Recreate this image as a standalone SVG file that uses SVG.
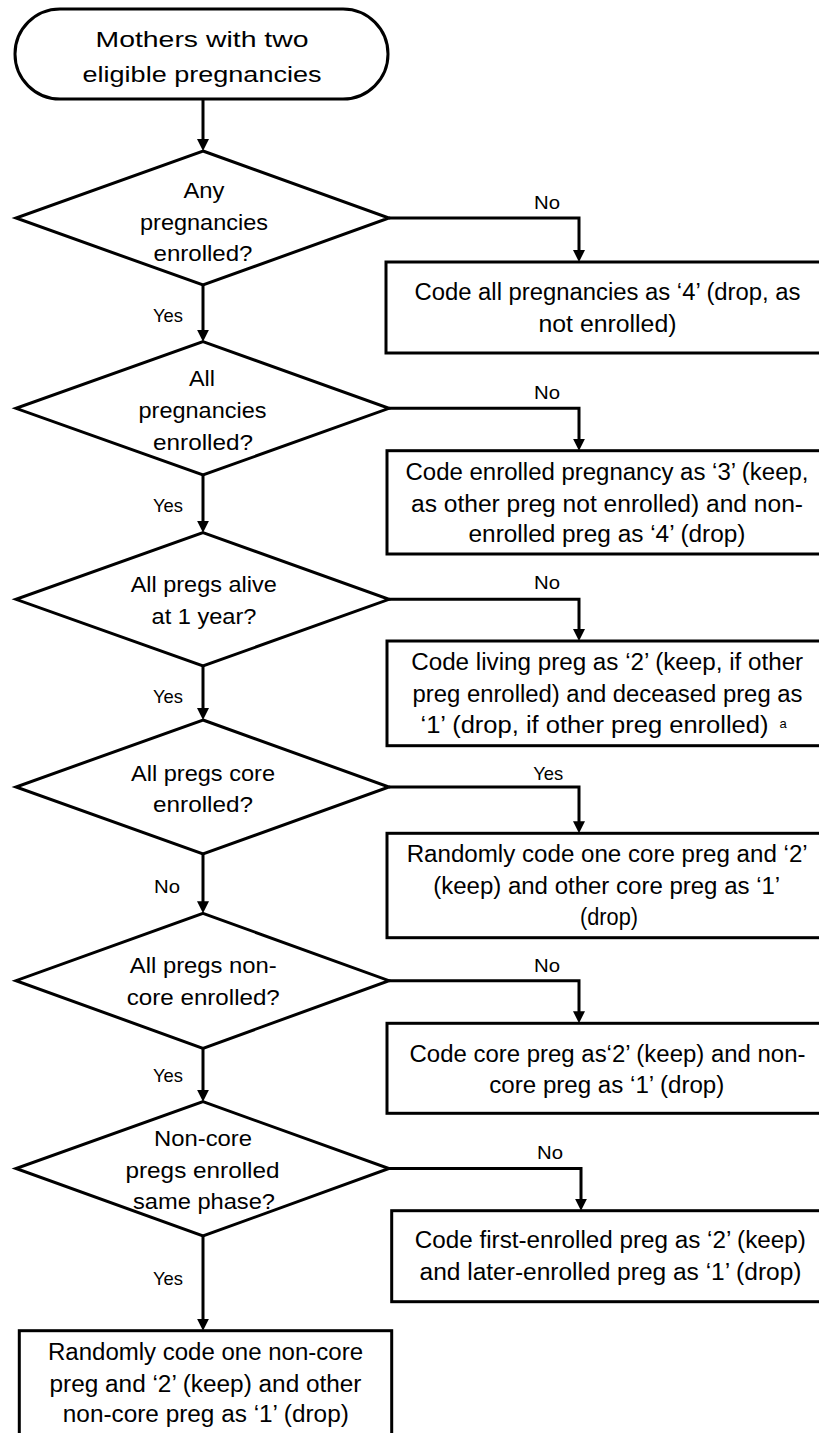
<svg xmlns="http://www.w3.org/2000/svg" width="819" height="1433" viewBox="0 0 819 1433">
<style>
.shape{fill:#fff;stroke:#000;stroke-width:3;stroke-linejoin:miter}
.conn{fill:none;stroke:#000;stroke-width:3}
text{font-family:"Liberation Sans",Arial,sans-serif;fill:#000;text-anchor:middle}
.t{font-size:22px}
.b{font-size:23.5px}
.l{font-size:19px}
.sup{font-size:13px;text-anchor:start}
</style>
<defs>
<marker id="ah" viewBox="0 0 12 12" markerWidth="12" markerHeight="12" markerUnits="userSpaceOnUse" refX="1" refY="6" orient="auto">
<path d="M0,0 L12,6 L0,12 z" fill="#000"/>
</marker>
</defs>
<rect width="819" height="1433" fill="#fff"/>

<g id="connectors">
<path class="conn" d="M203,99 V140" marker-end="url(#ah)"/>
<path class="conn" d="M389,218 H579 V251" marker-end="url(#ah)"/>
<path class="conn" d="M203,285 V330.7" marker-end="url(#ah)"/>
<path class="conn" d="M389,408.3 H579 V439.7" marker-end="url(#ah)"/>
<path class="conn" d="M203,475 V521.7" marker-end="url(#ah)"/>
<path class="conn" d="M389,599.3 H579 V630" marker-end="url(#ah)"/>
<path class="conn" d="M203,666 V709" marker-end="url(#ah)"/>
<path class="conn" d="M389,787 H579 V822.3" marker-end="url(#ah)"/>
<path class="conn" d="M203,854 V902.3" marker-end="url(#ah)"/>
<path class="conn" d="M389,980.7 H579 V1012.3" marker-end="url(#ah)"/>
<path class="conn" d="M203,1048.3 V1090.7" marker-end="url(#ah)"/>
<path class="conn" d="M389,1168.5 H581 V1199.7" marker-end="url(#ah)"/>
<path class="conn" d="M203,1236 V1319.7" marker-end="url(#ah)"/>
<text class="l" x="547" y="209" textLength="26" lengthAdjust="spacingAndGlyphs">No</text>
<text class="l" x="168" y="321.7" textLength="30" lengthAdjust="spacingAndGlyphs">Yes</text>
<text class="l" x="547" y="399" textLength="26" lengthAdjust="spacingAndGlyphs">No</text>
<text class="l" x="168" y="511.7" textLength="30" lengthAdjust="spacingAndGlyphs">Yes</text>
<text class="l" x="547" y="589.3" textLength="26" lengthAdjust="spacingAndGlyphs">No</text>
<text class="l" x="168" y="702.7" textLength="30" lengthAdjust="spacingAndGlyphs">Yes</text>
<text class="l" x="548.3" y="780" textLength="30" lengthAdjust="spacingAndGlyphs">Yes</text>
<text class="l" x="167" y="893.3" textLength="26" lengthAdjust="spacingAndGlyphs">No</text>
<text class="l" x="547" y="971.7" textLength="26" lengthAdjust="spacingAndGlyphs">No</text>
<text class="l" x="168" y="1081.7" textLength="30" lengthAdjust="spacingAndGlyphs">Yes</text>
<text class="l" x="550" y="1159" textLength="26" lengthAdjust="spacingAndGlyphs">No</text>
<text class="l" x="168" y="1285" textLength="30" lengthAdjust="spacingAndGlyphs">Yes</text>
</g>

<g id="start">
<rect class="shape" x="15" y="9" width="373" height="90" rx="45" ry="45"/>
<text class="t" x="202" y="46.5" textLength="213" lengthAdjust="spacingAndGlyphs">Mothers with two</text>
<text class="t" x="202" y="81.5" textLength="239" lengthAdjust="spacingAndGlyphs">eligible pregnancies</text>
</g>

<g id="d1">
<polygon class="shape" points="203,151 389,218 203,285 16,218"/>
<text class="t" x="204" y="198" textLength="41" lengthAdjust="spacingAndGlyphs">Any</text>
<text class="t" x="204" y="229.5" textLength="128" lengthAdjust="spacingAndGlyphs">pregnancies</text>
<text class="t" x="203" y="261" textLength="99" lengthAdjust="spacingAndGlyphs">enrolled?</text>
</g>

<g id="b1">
<rect class="shape" x="386" y="262" width="450" height="91"/>
<text class="b" x="607.5" y="300" textLength="386" lengthAdjust="spacingAndGlyphs">Code all pregnancies as ‘4’ (drop, as</text>
<text class="b" x="607.5" y="331.7" textLength="138" lengthAdjust="spacingAndGlyphs">not enrolled)</text>
</g>

<g id="d2">
<polygon class="shape" points="203,341.7 389,408.3 203,475 16,408.3"/>
<text class="t" x="202" y="386" textLength="26" lengthAdjust="spacingAndGlyphs">All</text>
<text class="t" x="202.5" y="418" textLength="128" lengthAdjust="spacingAndGlyphs">pregnancies</text>
<text class="t" x="203" y="449.5" textLength="100" lengthAdjust="spacingAndGlyphs">enrolled?</text>
</g>

<g id="b2">
<rect class="shape" x="387" y="450.7" width="450" height="103.3"/>
<text class="b" x="607" y="480" textLength="403" lengthAdjust="spacingAndGlyphs">Code enrolled pregnancy as ‘3’ (keep,</text>
<text class="b" x="607" y="511.5" textLength="392" lengthAdjust="spacingAndGlyphs">as other preg not enrolled) and non-</text>
<text class="b" x="607" y="542" textLength="277" lengthAdjust="spacingAndGlyphs">enrolled preg as ‘4’ (drop)</text>
</g>

<g id="d3">
<polygon class="shape" points="203,532.7 389,599.3 203,666 16,599.3"/>
<text class="t" x="203.7" y="591.7" textLength="146" lengthAdjust="spacingAndGlyphs">All pregs alive</text>
<text class="t" x="204" y="623.5" textLength="105" lengthAdjust="spacingAndGlyphs">at 1 year?</text>
</g>

<g id="b3">
<rect class="shape" x="387" y="641" width="450" height="104.7"/>
<text class="b" x="607.2" y="670" textLength="392" lengthAdjust="spacingAndGlyphs">Code living preg as ‘2’ (keep, if other</text>
<text class="b" x="607.5" y="701.7" textLength="390" lengthAdjust="spacingAndGlyphs">preg enrolled) and deceased preg as</text>
<text class="b" x="594.5" y="733.3" textLength="348" lengthAdjust="spacingAndGlyphs">‘1’ (drop, if other preg enrolled)</text>
<text class="sup" x="779.5" y="728">a</text>
</g>

<g id="d4">
<polygon class="shape" points="203,720 389,787 203,854 16,787"/>
<text class="t" x="203" y="780.7" textLength="144" lengthAdjust="spacingAndGlyphs">All pregs core</text>
<text class="t" x="203" y="811.7" textLength="100" lengthAdjust="spacingAndGlyphs">enrolled?</text>
</g>

<g id="b4">
<rect class="shape" x="387" y="833.3" width="450" height="104.4"/>
<text class="b" x="607.2" y="862" textLength="401" lengthAdjust="spacingAndGlyphs">Randomly code one core preg and ‘2’</text>
<text class="b" x="606.7" y="893.5" textLength="347" lengthAdjust="spacingAndGlyphs">(keep) and other core preg as ‘1’</text>
<text class="b" x="609" y="925" textLength="58" lengthAdjust="spacingAndGlyphs">(drop)</text>
</g>

<g id="d5">
<polygon class="shape" points="203,913.3 389,980.7 203,1048.3 16,980.7"/>
<text class="t" x="203.3" y="973.3" textLength="147" lengthAdjust="spacingAndGlyphs">All pregs non-</text>
<text class="t" x="203.3" y="1005" textLength="153" lengthAdjust="spacingAndGlyphs">core enrolled?</text>
</g>

<g id="b5">
<rect class="shape" x="387" y="1023.3" width="450" height="90"/>
<text class="b" x="607.5" y="1061.7" textLength="396" lengthAdjust="spacingAndGlyphs">Code core preg as‘2’ (keep) and non-</text>
<text class="b" x="606.8" y="1093.3" textLength="235" lengthAdjust="spacingAndGlyphs">core preg as ‘1’ (drop)</text>
</g>

<g id="d6">
<polygon class="shape" points="203,1101.7 389,1168.5 203,1236 16,1168.5"/>
<text class="t" x="203" y="1146" textLength="98" lengthAdjust="spacingAndGlyphs">Non-core</text>
<text class="t" x="202.5" y="1177.5" textLength="154" lengthAdjust="spacingAndGlyphs">pregs enrolled</text>
<text class="t" x="204" y="1209" textLength="142" lengthAdjust="spacingAndGlyphs">same phase?</text>
</g>

<g id="b6">
<rect class="shape" x="391.7" y="1210.7" width="450" height="91"/>
<text class="b" x="610.3" y="1248.3" textLength="391" lengthAdjust="spacingAndGlyphs">Code first-enrolled preg as ‘2’ (keep)</text>
<text class="b" x="610.5" y="1280" textLength="382" lengthAdjust="spacingAndGlyphs">and later-enrolled preg as ‘1’ (drop)</text>
</g>

<g id="b7">
<rect class="shape" x="19.3" y="1330.7" width="372.4" height="120"/>
<text class="b" x="205.5" y="1360" textLength="315" lengthAdjust="spacingAndGlyphs">Randomly code one non-core</text>
<text class="b" x="205.5" y="1391.7" textLength="312" lengthAdjust="spacingAndGlyphs">preg and ‘2’ (keep) and other</text>
<text class="b" x="205.8" y="1421.7" textLength="286" lengthAdjust="spacingAndGlyphs">non-core preg as ‘1’ (drop)</text>
</g>
</svg>
